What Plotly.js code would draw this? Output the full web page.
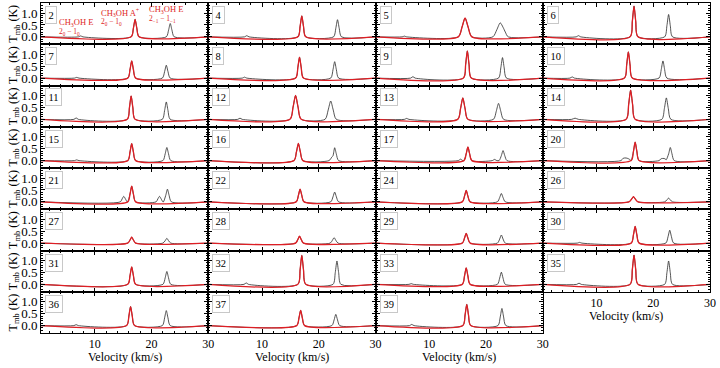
<!DOCTYPE html>
<html>
<head>
<meta charset="utf-8">
<script src="https://cdn.plot.ly/plotly-3.0.1.min.js"></script>
<style>
  html, body { margin: 0; padding: 0; background: #fff; }
  #plot { width: 720px; height: 368px; }
</style>
</head>
<body>
<div id="plot"></div>
<script>
// Panel (position) numbers, read left to right, top to bottom
const PANEL_IDS = ['2', '4', '5', '6', '7', '8', '9', '10', '11', '12', '13', '14',
  '15', '16', '17', '20', '21', '22', '24', '26', '27', '28', '29', '30',
  '31', '32', '33', '35', '36', '37', '39'];

// CH3OH A+ 2_0-1_0 line (black data, covered by the red fit)
const APLUS_V = [
  [16.4, 16.8, 17.1, 17.4, 17.8], [16.3, 16.7, 17.0, 17.3, 17.7], [15.1, 15.75, 16.3, 16.85, 17.5], [15.9, 16.3, 16.6, 16.9, 17.3],
  [15.8, 16.2, 16.5, 16.8, 17.2], [15.9, 16.3, 16.6, 16.9, 17.3], [16.0, 16.4, 16.7, 17.0, 17.4], [14.9, 15.3, 15.6, 15.9, 16.3],
  [15.7, 16.1, 16.4, 16.7, 17.1], [14.9, 15.45, 15.9, 16.35, 16.9], [15.0, 15.5, 15.9, 16.3, 16.8], [15.2, 15.65, 16.0, 16.35, 16.8],
  [15.8, 16.2, 16.5, 16.8, 17.2], [15.6, 16.05, 16.4, 16.75, 17.2], [16.1, 16.5, 16.8, 17.1, 17.5], [16.1, 16.5, 16.8, 17.1, 17.5],
  [15.8, 16.2, 16.5, 16.8, 17.2], [16.0, 16.4, 16.7, 17.0, 17.4], [15.8, 16.2, 16.5, 16.8, 17.2], [15.7, 16.15, 16.5, 16.85, 17.3],
  [15.8, 16.2, 16.5, 16.8, 17.2], [15.9, 16.3, 16.6, 16.9, 17.3], [15.8, 16.2, 16.5, 16.8, 17.2], [16.1, 16.5, 16.8, 17.1, 17.5],
  [15.8, 16.2, 16.5, 16.8, 17.2], [16.3, 16.7, 17.0, 17.3, 17.7], [15.8, 16.2, 16.5, 16.8, 17.2], [15.9, 16.3, 16.6, 16.9, 17.3],
  [15.6, 16.0, 16.3, 16.6, 17.0], [16.1, 16.5, 16.8, 17.1, 17.5], [15.9, 16.3, 16.6, 16.9, 17.3]
];
const APLUS_T = [
  [0, 0.37, 0.73, 0.37, 0], [0, 0.44, 0.88, 0.44, 0], [0, 0.40, 0.79, 0.40, 0], [0, 0.65, 1.29, 0.65, 0],
  [0, 0.36, 0.72, 0.36, 0], [0, 0.44, 0.88, 0.44, 0], [0, 0.57, 1.14, 0.57, 0], [0, 0.55, 1.10, 0.55, 0],
  [0, 0.49, 0.98, 0.49, 0], [0, 0.50, 1.00, 0.50, 0], [0, 0.45, 0.90, 0.45, 0], [0, 0.62, 1.23, 0.62, 0],
  [0, 0.36, 0.71, 0.36, 0], [0, 0.36, 0.72, 0.36, 0], [0, 0.29, 0.57, 0.29, 0], [0, 0.39, 0.77, 0.39, 0],
  [0, 0.33, 0.66, 0.33, 0], [0, 0.27, 0.53, 0.27, 0], [0, 0.24, 0.48, 0.24, 0], [0, 0.11, 0.22, 0.11, 0],
  [0, 0.13, 0.25, 0.13, 0], [0, 0.15, 0.29, 0.15, 0], [0, 0.21, 0.41, 0.21, 0], [0, 0.35, 0.70, 0.35, 0],
  [0, 0.37, 0.73, 0.37, 0], [0, 0.61, 1.21, 0.61, 0], [0, 0.35, 0.69, 0.35, 0], [0, 0.62, 1.23, 0.62, 0],
  [0, 0.40, 0.80, 0.40, 0], [0, 0.32, 0.64, 0.32, 0], [0, 0.45, 0.89, 0.45, 0]
];

// CH3OH E 2_-1-1_-1 line (black data only)
const EM1_V = [
  [22.6, 23.0, 23.3, 23.6, 24.0], [22.6, 23.0, 23.3, 23.6, 24.0], [21.2, 21.9, 22.5, 23.0, 23.4, 23.9], [22.0, 22.4, 22.7, 23.0, 23.4],
  [21.9, 22.3, 22.6, 22.9, 23.3], [22.1, 22.5, 22.8, 23.1, 23.5], [22.2, 22.6, 22.9, 23.2, 23.6], [21.0, 21.4, 21.7, 22.0, 22.4],
  [21.9, 22.3, 22.6, 22.9, 23.3], [21.1, 21.65, 22.1, 22.55, 23.1], [21.3, 21.8, 22.2, 22.6, 23.1], [21.5, 21.95, 22.3, 22.65, 23.1],
  [22.0, 22.4, 22.7, 23.0, 23.4], [21.8, 22.3, 22.5, 22.8, 23.1, 23.5], [22.3, 22.7, 23.0, 23.3, 23.7], [22.3, 22.7, 23.0, 23.3, 23.7],
  [22.1, 22.5, 22.8, 23.1, 23.5], [22.1, 22.5, 22.8, 23.1, 23.5], [22.0, 22.4, 22.7, 23.0, 23.4], [22.0, 22.4, 22.7, 23.0, 23.4],
  [22.0, 22.4, 22.7, 23.0, 23.4], [22.0, 22.4, 22.7, 23.0, 23.4], [22.0, 22.4, 22.7, 23.0, 23.4], [22.2, 22.6, 22.9, 23.2, 23.6],
  [22.0, 22.4, 22.7, 23.0, 23.4], [22.5, 22.9, 23.2, 23.5, 23.9], [22.0, 22.4, 22.7, 23.0, 23.4], [22.0, 22.4, 22.7, 23.0, 23.4],
  [21.9, 22.3, 22.6, 22.9, 23.3], [22.3, 22.7, 23.0, 23.3, 23.7], [22.1, 22.5, 22.8, 23.1, 23.5]
];
const EM1_T = [
  [0, 0.28, 0.56, 0.28, 0], [0, 0.36, 0.72, 0.36, 0], [0, 0.30, 0.59, 0.40, 0.20, 0], [0, 0.47, 0.94, 0.47, 0],
  [0, 0.27, 0.54, 0.27, 0], [0, 0.35, 0.69, 0.35, 0], [0, 0.43, 0.86, 0.43, 0], [0, 0.36, 0.72, 0.36, 0],
  [0, 0.37, 0.73, 0.37, 0], [0, 0.39, 0.77, 0.39, 0], [0, 0.34, 0.67, 0.34, 0], [0, 0.45, 0.90, 0.45, 0],
  [0, 0.28, 0.55, 0.28, 0], [0, 0.15, 0.20, 0.54, 0.27, 0], [0, 0.21, 0.42, 0.21, 0], [0.04, 0.28, 0.55, 0.28, 0],
  [0, 0.27, 0.53, 0.27, 0], [0, 0.21, 0.41, 0.21, 0], [0, 0.18, 0.35, 0.18, 0], [0, 0.08, 0.16, 0.08, 0],
  [0, 0.10, 0.20, 0.10, 0], [0, 0.12, 0.23, 0.12, 0], [0, 0.17, 0.34, 0.17, 0], [0, 0.27, 0.54, 0.27, 0],
  [0, 0.27, 0.54, 0.27, 0], [0, 0.49, 0.98, 0.49, 0], [0, 0.26, 0.51, 0.26, 0], [0, 0.49, 0.98, 0.49, 0],
  [0, 0.32, 0.63, 0.32, 0], [0, 0.24, 0.47, 0.24, 0], [0, 0.36, 0.72, 0.36, 0]
];

// Weak extra emission (CH3OH E 2_0-1_0 near 7 km/s, secondary components)
const EXTRA_V = [
  [7.1, 7.5, 7.9], [6.9, 7.3, 7.7], [5.2, 5.6, 6.0], [6.4, 6.8, 7.2],
  [6.4, 6.8, 7.2], [6.5, 6.9, 7.3], [6.7, 7.1, 7.5], [5.3, 5.7, 6.1],
  [6.3, 6.7, 7.1], [5.7, 6.1, 6.5], [5.6, 6.0, 6.4], [5.6, 6.2, 6.8],
  [6.4, 6.8, 7.2], [], [15.1, 15.5, 15.9, 21.1, 21.5, 21.9], [14.3, 14.7, 15.2, 15.6, 16.0, 21.0, 21.4, 21.9, 22.2],
  [14.5, 14.8, 15.1, 15.4, 15.7, 20.8, 21.1, 21.4, 21.7, 22.0], [], [], [],
  [], [], [], [6.6, 7.0, 7.4],
  [], [6.8, 7.2, 7.6], [6.4, 6.8, 7.2], [6.5, 6.9, 7.3],
  [6.3, 6.7, 7.1], [], [6.5, 6.9, 7.3]
];
const EXTRA_T = [
  [0, 0.04, 0], [0, 0.05, 0], [0, 0.03, 0], [0, 0.05, 0],
  [0, 0.03, 0], [0, 0.04, 0], [0, 0.06, 0], [0, 0.05, 0],
  [0, 0.06, 0], [0, 0.05, 0], [0, 0.04, 0], [0, 0.05, 0],
  [0, 0.03, 0], [], [0, 0.06, 0, 0, 0.05, 0], [0, 0.10, 0.11, 0.08, 0.02, 0, 0.08, 0.09, 0.05],
  [0, 0.12, 0.23, 0.12, 0, 0, 0.12, 0.23, 0.12, 0], [], [], [],
  [], [], [], [0, 0.03, 0],
  [], [0, 0.06, 0], [0, 0.03, 0], [0, 0.05, 0],
  [0, 0.04, 0], [], [0, 0.05, 0]
];

const V_RANGE = [0.5, 30];
const T_RANGE = [-0.31, 1.42];
const X_TICKS = [10, 20, 30];
const Y_TICKS = [0, 0.5, 1.0];
const Y_TICKTEXT = ['0.0', '0.5', '1.0'];

const NCOL = 4;
const NROW = 8;
const PLOT_W = 669;   // plot area in px (720 - margins)
const PLOT_H = 330;
const SERIF = 'Liberation Serif, DejaVu Serif, serif';
const RED = 'rgb(222,30,36)';

// merge several point lists into one line sorted by velocity
function MergePoints(vlists, tlists) {
  let pts = [];
  for (let k = 0; k < vlists.length; ++k) {
    for (let j = 0; j < vlists[k].length; ++j) pts.push([vlists[k][j], tlists[k][j]]);
  }
  pts.sort((a, b) => a[0] - b[0]);
  return {x: pts.map(p => p[0]), y: pts.map(p => p[1])};
}

let traces = [];
let layout = {
  width: 720,
  height: 368,
  margin: {l: 41, r: 10, t: 3, b: 35},
  paper_bgcolor: '#fff',
  plot_bgcolor: '#fff',
  showlegend: false,
  font: {family: SERIF, color: '#000'},
  annotations: [],
};

for (let i = 0; i < PANEL_IDS.length; ++i) {
  let row = Math.floor(i / NCOL);
  let col = i % NCOL;
  let n = i + 1;
  let xa = 'x' + (n === 1 ? '' : n);
  let ya = 'y' + (n === 1 ? '' : n);

  // is this the lowest panel in its column?
  let bottom = (i + NCOL >= PANEL_IDS.length);
  let left = (col === 0);

  let data = MergePoints([[V_RANGE[0], V_RANGE[1]], EXTRA_V[i], APLUS_V[i], EM1_V[i]],
                         [[0, 0], EXTRA_T[i], APLUS_T[i], EM1_T[i]]);
  let fit = MergePoints([[V_RANGE[0], V_RANGE[1]], APLUS_V[i]], [[0, 0], APLUS_T[i]]);

  traces.push({x: data.x, y: data.y, xaxis: xa, yaxis: ya, type: 'scatter', mode: 'lines',
    line: {color: '#2a2a2a', width: 0.8, shape: 'spline', smoothing: 0.7}, hoverinfo: 'skip'});
  traces.push({x: fit.x, y: fit.y, xaxis: xa, yaxis: ya, type: 'scatter', mode: 'lines',
    line: {color: RED, width: 1.3, shape: 'spline', smoothing: 0.7}, hoverinfo: 'skip'});

  let xkey = 'xaxis' + (n === 1 ? '' : n);
  let ykey = 'yaxis' + (n === 1 ? '' : n);

  layout[xkey] = {
    domain: [col / NCOL, (col + 1) / NCOL],
    anchor: ya,
    range: V_RANGE,
    tickmode: 'array',
    tickvals: X_TICKS,
    ticks: 'inside',
    ticklen: 4,
    tickcolor: '#000',
    minor: {tick0: 0, dtick: 2, ticks: 'inside', ticklen: 2, tickcolor: '#000'},
    showline: true,
    linecolor: '#000',
    linewidth: 1,
    mirror: 'allticks',
    showgrid: false,
    zeroline: false,
    showticklabels: bottom,
    tickfont: {family: SERIF, size: 12, color: '#000'},
    automargin: false,
  };
  layout[ykey] = {
    domain: [1 - (row + 1) / NROW, 1 - row / NROW],
    anchor: xa,
    range: T_RANGE,
    tickmode: 'array',
    tickvals: Y_TICKS,
    ticktext: Y_TICKTEXT,
    ticks: 'inside',
    ticklen: 4,
    tickcolor: '#000',
    minor: {tick0: 0, dtick: 0.1, ticks: 'inside', ticklen: 2, tickcolor: '#000'},
    showline: true,
    linecolor: '#000',
    linewidth: 1,
    mirror: 'allticks',
    showgrid: false,
    zeroline: false,
    showticklabels: left,
    tickfont: {family: SERIF, size: 13, color: '#000'},
    automargin: false,
  };

  // axis titles as paper annotations so they sit where the reference has them
  if (bottom) {
    layout.annotations.push({
      xref: 'paper', yref: 'paper',
      x: (col + 0.5) / NCOL, y: 1 - (row + 1) / NROW - 24 / PLOT_H,
      xanchor: 'center', yanchor: 'middle', showarrow: false,
      text: 'Velocity (km/s)', font: {family: SERIF, size: 12, color: '#000'},
    });
  }
  if (left) {
    layout.annotations.push({
      xref: 'paper', yref: 'paper',
      x: -27 / PLOT_W, y: 1 - (row + 0.5) / NROW,
      xanchor: 'center', yanchor: 'middle', showarrow: false, textangle: -90,
      text: 'T<sub>mb</sub> (K)', font: {family: SERIF, size: 12, color: '#000'},
    });
  }

  // panel number box
  layout.annotations.push({
    xref: 'paper', yref: 'paper',
    x: col / NCOL + 4 / PLOT_W, y: 1 - row / NROW - 3 / PLOT_H,
    xanchor: 'left', yanchor: 'top',
    text: PANEL_IDS[i], showarrow: false,
    font: {family: SERIF, size: 10.5, color: '#000'},
    bgcolor: '#fff', bordercolor: '#c8c8c8', borderwidth: 1, borderpad: 2.5,
  });
}

// line labels in the first panel
const LINE_LABELS = [
  {v: 3.4, t: 0.60, text: 'CH<sub>3</sub>OH E', size: 8.5},
  {v: 3.4, t: 0.22, text: '2<sub>0</sub> − 1<sub>0</sub>', size: 7.5},
  {v: 10.8, t: 1.02, text: 'CH<sub>3</sub>OH A<sup>+</sup>', size: 8.5},
  {v: 10.8, t: 0.64, text: '2<sub>0</sub> − 1<sub>0</sub>', size: 7.5},
  {v: 19.2, t: 1.14, text: 'CH<sub>3</sub>OH E', size: 8.5},
  {v: 19.2, t: 0.76, text: '2<sub>−1</sub> − 1<sub>−1</sub>', size: 7.5},
];
for (let lab of LINE_LABELS) {
  layout.annotations.push({
    xref: 'x', yref: 'y', x: lab.v, y: lab.t, xanchor: 'left', yanchor: 'middle',
    text: lab.text, showarrow: false,
    font: {family: SERIF, size: lab.size, color: RED},
  });
}

Plotly.newPlot('plot', traces, layout, {staticPlot: true, displayModeBar: false});
</script>
</body>
</html>
